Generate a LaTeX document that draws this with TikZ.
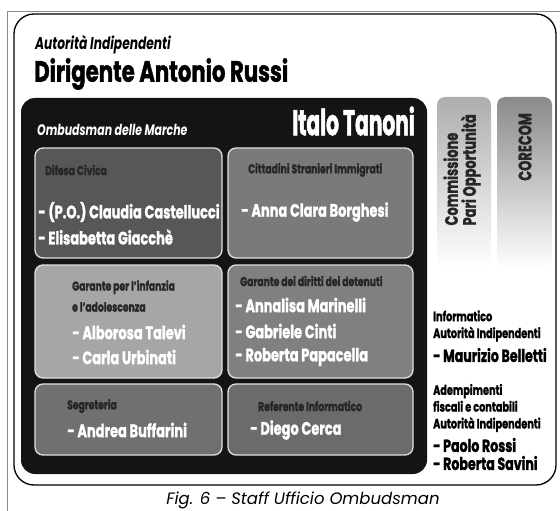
\documentclass[tikz,border=0pt]{standalone}
\usepackage{fontspec}
\setmainfont{Poppins}[FakeStretch=0.72,BoldFeatures={FakeBold=1.3}]
\newfontfamily\narrowfont{Poppins}[FakeStretch=0.56,BoldFeatures={FakeBold=1.3}]
\newfontfamily\capfont{Poppins}
\usepackage{tikz}

\begin{document}
\begin{tikzpicture}[x=1pt,y=-1pt,
		unit/.style={rounded corners=8pt,draw=white!88!black,line width=1.3pt},
		head/.style={anchor=west,inner sep=0pt,text=black!85,font=\bfseries\fontsize{12.8}{12.8}\selectfont},
		member/.style={anchor=west,inner sep=0pt,text=white,font=\bfseries\fontsize{18}{18}\selectfont},
		note/.style={anchor=west,inner sep=0pt,align=left,font=\bfseries\fontsize{13.5}{16.8}\selectfont},
		person/.style={anchor=west,inner sep=0pt,font=\bfseries\fontsize{17.5}{17.5}\selectfont},
		band/.style={rotate=90,anchor=east,inner sep=0pt,align=left,text=black!85,font=\bfseries\fontsize{18}{18}\selectfont}]
		\def\rr{8pt}
		\useasboundingbox (0,0) rectangle (560,511);
		\draw [black!45] (7,511) -- (7,11) -- (560,11);
		\draw [line width=1.3pt,rounded corners=20pt] (14,14) rectangle (556,485);
		\fill [black!92,rounded corners=14pt] (21,98) rectangle (427,474);
		% offices
		\filldraw [unit,fill=black!66] (35,148) rectangle (222,258);
		\filldraw [unit,fill=black!52] (228,148) rectangle (413,258);
		\filldraw [unit,fill=black!35] (35,265) rectangle (222,378);
		\filldraw [unit,fill=black!50] (228,265) rectangle (413,378);
		\filldraw [unit,fill=black!56] (35,384) rectangle (222,455);
		\filldraw [unit,fill=black!58] (228,384) rectangle (413,455);
		\shade [rounded corners=\rr,top color=black!32,bottom color=white] (437,97) rectangle (491,268);
		\shade [rounded corners=\rr,top color=black!46,bottom color=white] (497,97) rectangle (552,268);
		% titles
		\node [anchor=west,inner sep=0pt,font=\bfseries\itshape\fontsize{17}{17}\selectfont] (aut) at (35,45) {Autorità Indipendenti};
		\node [anchor=west,inner sep=0pt,font=\bfseries\fontsize{29.5}{29.5}\selectfont] (dir) at (34,74) {Dirigente Antonio Russi};
		\node [anchor=west,inner sep=0pt,text=white,font=\bfseries\itshape\fontsize{15.2}{15.2}\selectfont] (omb) at (37,130) {Ombudsman delle Marche};
		\node [anchor=east,inner sep=0pt,text=white,font=\narrowfont\bfseries\fontsize{36}{36}\selectfont] (tan) at (415,121) {Italo Tanoni};
		% difesa civica
		\node [head] (dc) at (45,170) {Difesa Civica};
		\node [member] (dc1) at (38,212) {- (P.O.) Claudia Castellucci};
		\node [member] (dc2) at (38,237) {- Elisabetta Giacchè};
		% stranieri
		\node [head] (si) at (248,170) {Cittadini Stranieri Immigrati};
		\node [member] (si1) at (241,212) {- Anna Clara Borghesi};
		% infanzia
		\node [head,align=left,font=\bfseries\fontsize{12.8}{21}\selectfont] (gi) at (72,296) {Garante per l'infanzia\\e l'adolescenza};
		\node [member] (gi1) at (72,332) {- Alborosa Talevi};
		\node [member] (gi2) at (72,357) {- Carla Urbinati};
		% detenuti
		\node [head] (gd) at (240,281) {Garante dei diritti dei detenuti};
		\node [member] (gd1) at (235,305) {- Annalisa Marinelli};
		\node [member] (gd2) at (235,331) {- Gabriele Cinti};
		\node [member] (gd3) at (235,357) {- Roberta Papacella};
		% segreteria, informatico
		\node [head] (sg) at (67,406) {Segreteria};
		\node [member] (sg1) at (67,430) {- Andrea Buffarini};
		\node [head] (ri) at (258,406) {Referente Informatico};
		\node [member] (ri1) at (250,430) {- Diego Cerca};
		% side
		\node [band] (cpo) at (462,114) {Commissione\\Pari Opportunità};
		\node [band] (cor) at (525,113) {CORECOM};
		\node [note] (inf) at (433,326) {Informatico\\Autorità Indipendenti};
		\node [person] (inf1) at (433,355) {- Maurizio Belletti};
		\node [note] (ade) at (433,408) {Adempimenti\\fiscali e contabili\\Autorità Indipendenti};
		\node [person] (ade1) at (433,445) {- Paolo Rossi};
		\node [person] (ade2) at (433,463) {- Roberta Savini};
		\node [font=\capfont\itshape\fontsize{16.5}{16.5}\selectfont] (cap) at (303,500) {Fig. 6 – Staff Ufficio Ombudsman};
	\end{tikzpicture}
\end{document}
